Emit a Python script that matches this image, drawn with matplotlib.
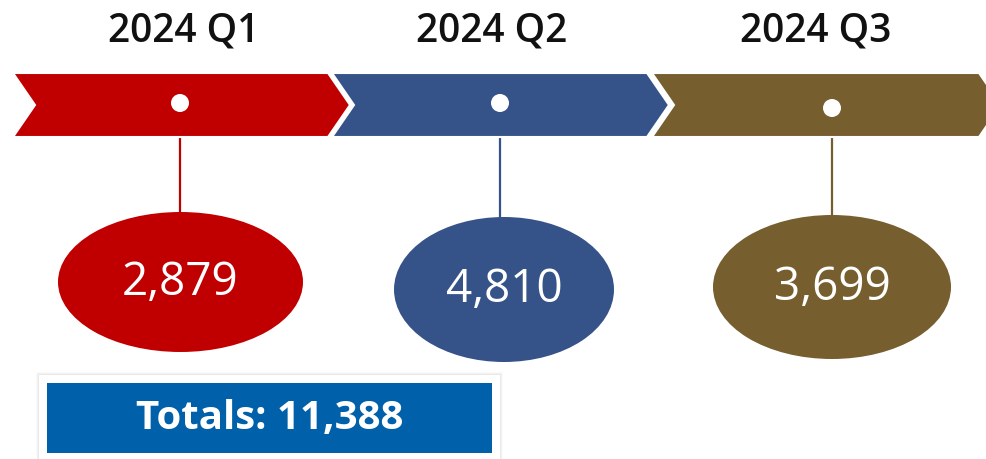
import matplotlib.pyplot as plt
from matplotlib.patches import Polygon, Ellipse, Rectangle

# data
quarters = ["2024 Q1", "2024 Q2", "2024 Q3"]
values = [2879, 4810, 3699]
colors = ["#C00000", "#365389", "#765E2E"]
total = sum(values)

# layout, in pixels of the 986x459 picture
chev_left = [13, 332, 652]
chev_right = [328, 647, 979]
chev_top, chev_bot, chev_depth = 73, 137, 22
title_x = [184, 492, 816]
dot_pos = [(180, 103), (500, 103), (832, 108)]
ell_pos = [(180.5, 282), (504, 289.5), (832, 287)]
ell_size = [(245, 140), (220, 145), (238, 144)]

plt.rcParams['font.family'] = ['Open Sans', 'DejaVu Sans']

fig = plt.figure(figsize=(9.86, 4.59), dpi=100)
ax = fig.add_axes([0, 0, 1, 1])
ax.set_xlim(0, 986)
ax.set_ylim(459, 0)
ax.axis('off')

mid = (chev_top + chev_bot) / 2
for i, q in enumerate(quarters):
    x0, x1 = chev_left[i], chev_right[i]
    pts = [(x0, chev_top), (x1, chev_top), (x1 + chev_depth, mid),
           (x1, chev_bot), (x0, chev_bot), (x0 + chev_depth, mid)]
    ax.add_patch(Polygon(pts, closed=True, facecolor=colors[i],
                         edgecolor='white', linewidth=1.5, zorder=2))

    ax.text(title_x[i], 42, q, ha='center', va='baseline',
            fontsize=28, fontweight='semibold', color='#111111')

    dx, dy = dot_pos[i]
    ex, ey = ell_pos[i]
    ew, eh = ell_size[i]
    ax.plot([dx, dx], [chev_bot, ey - eh / 2 + 2], color=colors[i],
            linewidth=1.6, zorder=1)
    ax.add_patch(Ellipse((dx, dy), 18, 18, facecolor='white',
                         edgecolor='none', zorder=3))
    ax.add_patch(Ellipse((ex, ey), ew, eh, facecolor=colors[i],
                         edgecolor='none', zorder=2))
    ax.text(ex, ey + 1, "{:,}".format(values[i]), ha='center', va='center',
            fontsize=33, fontweight='medium', color='white', zorder=4)

# totals box with a soft shadow
for k, a in enumerate([0.04, 0.06, 0.08]):
    g = 3 - k
    ax.add_patch(Rectangle((39 - g, 375 - g), 461 + 2 * g, 90 + 2 * g,
                           facecolor='#808080', edgecolor='none',
                           alpha=a, zorder=1))
ax.add_patch(Rectangle((39, 375), 461, 90, facecolor='white',
                       edgecolor='none', zorder=2))
ax.add_patch(Rectangle((47, 383), 445, 70, facecolor='#0060A9',
                       edgecolor='none', zorder=3))
ax.text(269.5, 419, "Totals: {:,}".format(total), ha='center', va='center',
        fontsize=29, fontweight='bold', color='white', zorder=4)

plt.savefig('out.png', dpi=100)
plt.close('all')
